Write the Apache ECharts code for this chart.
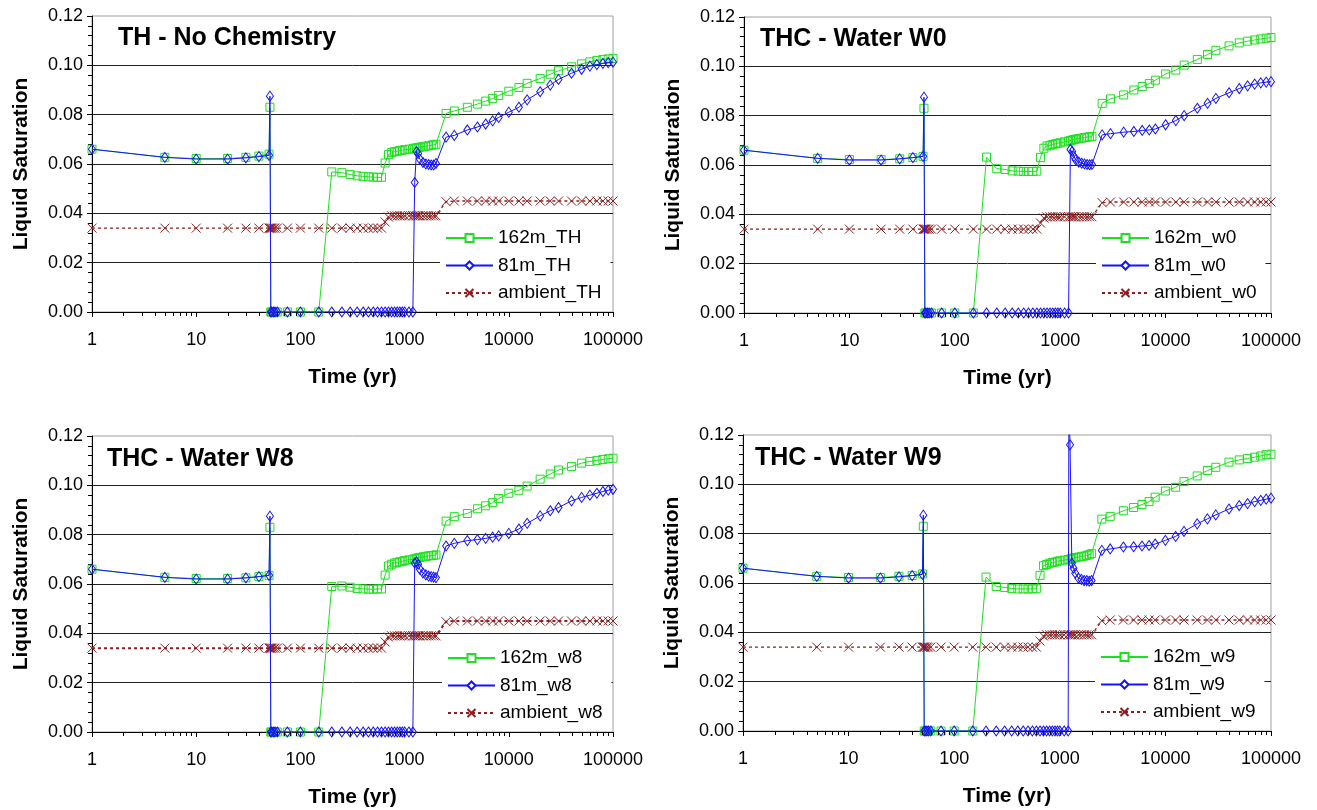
<!DOCTYPE html>
<html><head><meta charset="utf-8">
<script src="https://cdn.jsdelivr.net/npm/echarts@6/dist/echarts.min.js"></script>
<style>html,body{margin:0;padding:0;background:#fff}#c{width:1317px;height:810px}</style>
</head><body><div id="c"></div>
<script>
// ---------------- DATA ----------------
const times = [1,5,10,20,30,40,50,51,52,53,55,57,60,75,100,150,
  200,250,300,350,400,450,500,550,600,
  650,700,750,800,850,900,950,1000,1100,1200,1250,1300,1350,1400,1500,1600,1700,1800,1900,2000,
  2500,3000,4000,5000,6000,7000,8000,10000,12500,15000,20000,25000,30000,40000,50000,60000,70000,80000,90000,100000];

const timesW9Blue = [1,5,10,20,30,40,50,51,52,53,55,57,60,75,100,150,
  200,250,300,350,400,450,500,550,600,
  650,700,750,800,850,900,950,1000,1100,1200,1220,1250,1300,1350,1400,1500,1600,1700,1800,1900,2000,
  2500,3000,4000,5000,6000,7000,8000,10000,12500,15000,20000,25000,30000,40000,50000,60000,70000,80000,90000,100000];

const green162TH = [0.066,0.0627,0.0622,0.0622,0.0627,0.0632,0.064,0.083,0,0,0,0,0,0,0,0,
  0.0568,0.0565,0.0557,0.0552,0.055,0.0548,0.0547,0.0546,0.0546,
  0.0604,0.0638,0.0646,0.065,0.0652,0.0654,0.0656,0.0658,0.066,0.0662,0.0664,0.0665,0.0666,0.0668,0.067,0.0672,0.0674,0.0676,0.0678,0.068,
  0.0805,0.0815,0.083,0.0843,0.0855,0.0866,0.0878,0.0895,0.091,0.0927,0.0947,0.0964,0.0978,0.0994,0.1006,0.1014,0.102,0.1024,0.1026,0.1028];
const blue81TH = [0.066,0.0627,0.062,0.062,0.0625,0.063,0.0635,0.0875,0,0,0,0,0,0,0,0,
  0,0,0,0,0,0,0,0,0,
  0,0,0,0,0,0,0,0,0,0,0.0525,0.065,0.0643,0.062,0.0606,0.06,0.0598,0.0596,0.0596,0.0602,
  0.0709,0.0716,0.0738,0.075,0.0762,0.0775,0.0789,0.081,0.083,0.086,0.0893,0.092,0.0943,0.0968,0.0984,0.0997,0.1003,0.1008,0.1011,0.1013];
const ambientTH = [0.034,0.034,0.034,0.034,0.034,0.034,0.034,0.034,0.034,0.034,0.034,0.034,0.034,0.034,0.034,0.034,
  0.034,0.034,0.034,0.034,0.034,0.034,0.034,0.034,0.034,
  0.0365,0.0385,0.039,0.039,0.039,0.039,0.039,0.039,0.039,0.039,0.039,0.039,0.039,0.039,0.039,0.039,0.039,0.039,0.039,0.039,
  0.0447,0.045,0.045,0.045,0.045,0.045,0.045,0.045,0.045,0.045,0.045,0.045,0.045,0.045,0.045,0.045,0.045,0.045,0.045,0.045];

const green162W0 = [0.066,0.0627,0.0622,0.0622,0.0625,0.063,0.0635,0.083,0,0,0,0,0,0,0,0,
  0.0632,0.0585,0.0582,0.0576,0.0575,0.0574,0.0574,0.0574,0.0575,
  0.063,0.0668,0.0677,0.068,0.0683,0.0686,0.0688,0.069,0.0694,0.0697,0.0699,0.0701,0.0703,0.0705,0.0707,0.0709,0.0711,0.0713,0.0714,0.0716,
  0.085,0.0868,0.0884,0.0904,0.0918,0.093,0.0944,0.0969,0.0985,0.1005,0.1028,0.1048,0.1065,0.1083,0.1095,0.1102,0.1107,0.1111,0.1114,0.1117];
const blue81W0 = [0.066,0.0627,0.062,0.062,0.0625,0.063,0.0635,0.0875,0,0,0,0,0,0,0,0,
  0,0,0,0,0,0,0,0,0,
  0,0,0,0,0,0,0,0,0,0,0.0663,0.0655,0.0635,0.0622,0.0612,0.0607,0.0604,0.0602,0.0601,0.0602,
  0.0722,0.0727,0.0733,0.0736,0.074,0.0742,0.0746,0.0763,0.078,0.08,0.083,0.085,0.087,0.0893,0.091,0.0921,0.0928,0.0933,0.0936,0.0938];
const ambientW0 = [0.034,0.034,0.034,0.034,0.034,0.034,0.034,0.034,0.034,0.034,0.034,0.034,0.034,0.034,0.034,0.034,
  0.034,0.034,0.034,0.034,0.034,0.034,0.034,0.034,0.034,
  0.0365,0.0385,0.039,0.039,0.039,0.039,0.039,0.039,0.039,0.039,0.039,0.039,0.039,0.039,0.039,0.039,0.039,0.039,0.039,0.039,
  0.0447,0.045,0.045,0.045,0.045,0.045,0.045,0.045,0.045,0.045,0.045,0.045,0.045,0.045,0.045,0.045,0.045,0.045,0.045,0.045];

const green162W8 = [0.066,0.0627,0.0622,0.0622,0.0625,0.063,0.0635,0.083,0,0,0,0,0,0,0,0,
  0.059,0.0592,0.0587,0.0582,0.058,0.0579,0.0579,0.058,0.058,
  0.0636,0.0673,0.068,0.0685,0.0688,0.069,0.0692,0.0695,0.0698,0.07,0.0702,0.0704,0.0706,0.0708,0.071,0.0712,0.0714,0.0715,0.0716,0.0718,
  0.0855,0.0873,0.0886,0.0905,0.0917,0.093,0.0947,0.0968,0.098,0.0997,0.1025,0.1046,0.1062,0.1076,0.109,0.1097,0.1101,0.1105,0.1108,0.111];
const blue81W8 = [0.066,0.0627,0.062,0.062,0.0625,0.063,0.0635,0.0875,0,0,0,0,0,0,0,0,
  0,0,0,0,0,0,0,0,0,
  0,0,0,0,0,0,0,0,0,0,0.0685,0.069,0.068,0.066,0.0645,0.0637,0.0632,0.063,0.0628,0.0626,
  0.0754,0.0765,0.0776,0.078,0.0785,0.079,0.0795,0.0805,0.0823,0.0846,0.0876,0.0897,0.091,0.0937,0.0951,0.096,0.0968,0.0975,0.098,0.0984];
const ambientW8 = [0.034,0.034,0.034,0.034,0.034,0.034,0.034,0.034,0.034,0.034,0.034,0.034,0.034,0.034,0.034,0.034,
  0.034,0.034,0.034,0.034,0.034,0.034,0.034,0.034,0.034,
  0.0365,0.0385,0.039,0.039,0.039,0.039,0.039,0.039,0.039,0.039,0.039,0.039,0.039,0.039,0.039,0.039,0.039,0.039,0.039,0.039,
  0.0447,0.045,0.045,0.045,0.045,0.045,0.045,0.045,0.045,0.045,0.045,0.045,0.045,0.045,0.045,0.045,0.045,0.045,0.045,0.045];

const green162W9 = [0.066,0.0627,0.0622,0.0622,0.0627,0.063,0.0637,0.083,0,0,0,0,0,0,0,0,
  0.0624,0.0586,0.0582,0.0578,0.0576,0.0576,0.0576,0.0576,0.0577,
  0.0631,0.067,0.0675,0.068,0.0683,0.0685,0.0688,0.069,0.0693,0.0695,0.0697,0.0699,0.0701,0.0703,0.0705,0.0707,0.0709,0.0712,0.0715,0.0719,
  0.0859,0.087,0.0893,0.0906,0.0918,0.093,0.0948,0.0973,0.0988,0.1011,0.1034,0.1056,0.1069,0.109,0.1099,0.1105,0.111,0.1115,0.112,0.1122];
const blue81W9 = [0.066,0.0627,0.062,0.062,0.0625,0.063,0.0635,0.0875,0,0,0,0,0,0,0,0,
  0,0,0,0,0,0,0,0,0,
  0,0,0,0,0,0,0,0,0,0,0.135,0.116,0.068,0.066,0.064,0.062,0.0615,0.061,0.061,0.0607,0.061,
  0.0732,0.0738,0.0746,0.0747,0.075,0.0752,0.0758,0.0773,0.0789,0.0809,0.084,0.086,0.0876,0.09,0.0914,0.0922,0.093,0.0935,0.094,0.0944];
const ambientW9 = [0.034,0.034,0.034,0.034,0.034,0.034,0.034,0.034,0.034,0.034,0.034,0.034,0.034,0.034,0.034,0.034,
  0.034,0.034,0.034,0.034,0.034,0.034,0.034,0.034,0.034,
  0.0365,0.0385,0.039,0.039,0.039,0.039,0.039,0.039,0.039,0.039,0.039,0.039,0.039,0.039,0.039,0.039,0.039,0.039,0.039,0.039,
  0.0447,0.045,0.045,0.045,0.045,0.045,0.045,0.045,0.045,0.045,0.045,0.045,0.045,0.045,0.045,0.045,0.045,0.045,0.045,0.045];

const panelTitles = ['TH - No Chemistry','THC - Water W0','THC - Water W8','THC - Water W9'];
const seriesSuffix = ['TH','w0','w8','w9'];
const xMinorTicks = [2,3,4,5,6,7,8,9,20,30,40,50,60,70,80,90,200,300,400,500,600,700,800,900,
  2000,3000,4000,5000,6000,7000,8000,9000,20000,30000,40000,50000,60000,70000,80000,90000];
const xRange = [1, 100000];
const yRange = [0, 0.12];
const yStep = 0.02;
const xAxisTitle = 'Time (yr)';
const yAxisTitle = 'Liquid Saturation';

const panelData = [
  {green: green162TH, blue: blue81TH, blueT: times, amb: ambientTH},
  {green: green162W0, blue: blue81W0, blueT: times, amb: ambientW0},
  {green: green162W8, blue: blue81W8, blueT: times, amb: ambientW8},
  {green: green162W9, blue: blue81W9, blueT: timesW9Blue, amb: ambientW9}
];

// ---------------- LAYOUT / STYLE ----------------
const layout = [
  {grid:{left:92, top:16, width:521, height:296}, title:{left:118, top:26}, legend:{left:440, top:222}},
  {grid:{left:744, top:17, width:527, height:296}, title:{left:760, top:27}, legend:{left:1096, top:222}},
  {grid:{left:92, top:436, width:521, height:296}, title:{left:107, top:447}, legend:{left:442, top:642}},
  {grid:{left:743, top:435, width:528, height:296}, title:{left:755, top:446}, legend:{left:1095, top:641}}
];
const FONT = '"Liberation Sans", Arial, sans-serif';
const GREEN = '#1ee01e', BLUE = '#1414ff', RED = '#8f1f1f';
const X_SYMBOL = 'path://M0,0L10,10M10,0L0,10';

const zip = (t, v) => v.map((y, i) => [t[i], y]);

const option = {
  animation: false,
  backgroundColor: '#fff',
  textStyle: {fontFamily: FONT, color: '#000'},
  title: [], grid: [], xAxis: [], yAxis: [], legend: [], series: []
};

layout.forEach((L, i) => {
  const suf = seriesSuffix[i];
  const d = panelData[i];
  option.title.push({text: panelTitles[i], left: L.title.left, top: L.title.top, padding: 0,
    textStyle: {fontFamily: FONT, fontSize: 25, fontWeight: 'bold', color: '#000'}});
  option.grid.push(Object.assign({show: true, borderColor: '#a0a0a0', borderWidth: 1, backgroundColor: 'transparent', containLabel: false}, L.grid));
  option.xAxis.push({
    type: 'log', logBase: 10, gridIndex: i, min: xRange[0], max: xRange[1],
    axisLine: {show: true, onZero: false, lineStyle: {color: '#000', width: 1}},
    axisTick: {show: true, length: 5, lineStyle: {color: '#000'}},
    axisLabel: {fontFamily: FONT, fontSize: 18, color: '#000', margin: 19, formatter: v => String(Math.round(v))},
    splitLine: {show: false},
    name: xAxisTitle, nameLocation: 'middle', nameGap: 55,
    nameTextStyle: {fontFamily: FONT, fontSize: 21, fontWeight: 'bold', color: '#000'}
  });
  option.yAxis.push({
    type: 'value', gridIndex: i, min: yRange[0], max: yRange[1], interval: yStep,
    axisLine: {show: true, lineStyle: {color: '#000', width: 1}},
    axisTick: {show: true, length: 5, lineStyle: {color: '#000'}},
    minorTick: {show: true, splitNumber: 5, length: 4, lineStyle: {color: '#000'}},
    axisLabel: {fontFamily: FONT, fontSize: 18, color: '#000', margin: 9, formatter: v => v.toFixed(2)},
    splitLine: {show: true, showMaxLine: false, lineStyle: {color: '#222', width: 1}},
    name: yAxisTitle, nameLocation: 'middle', nameGap: 60,
    nameTextStyle: {fontFamily: FONT, fontSize: 21, fontWeight: 'bold', color: '#000'}
  });
  option.legend.push({
    data: ['162m_' + suf, '81m_' + suf, 'ambient_' + suf],
    orient: 'vertical', left: L.legend.left, top: L.legend.top,
    backgroundColor: '#fff', padding: [6, 9, 6, 5],
    itemWidth: 47, itemHeight: 10, itemGap: 7.5, selectedMode: false,
    itemStyle: {color: '#fff'},
    textStyle: {fontFamily: FONT, fontSize: 19, lineHeight: 20, color: '#000'}
  });
  option.series.push({
    type: 'line', name: '162m_' + suf, xAxisIndex: i, yAxisIndex: i,
    data: zip(times, d.green), symbol: 'rect', symbolSize: 8,
    lineStyle: {color: GREEN, width: 1},
    itemStyle: {color: 'rgba(255,255,255,0)', borderColor: GREEN, borderWidth: 1},
    emphasis: {disabled: true}, z: 2
  });
  option.series.push({
    type: 'line', name: '81m_' + suf, xAxisIndex: i, yAxisIndex: i,
    data: zip(d.blueT, d.blue), symbol: 'diamond', symbolSize: [7, 10],
    lineStyle: {color: BLUE, width: 1},
    itemStyle: {color: 'rgba(255,255,255,0)', borderColor: BLUE, borderWidth: 1},
    emphasis: {disabled: true}, z: 3
  });
  option.series.push({
    type: 'line', name: 'ambient_' + suf, xAxisIndex: i, yAxisIndex: i,
    data: zip(times, d.amb), symbol: X_SYMBOL, symbolSize: 9,
    lineStyle: {color: RED, width: i === 2 ? 2 : 1.3, type: [3, 3]},
    itemStyle: {color: 'rgba(255,255,255,0)', borderColor: RED, borderWidth: 1},
    emphasis: {disabled: true}, z: 2
  });
  option.series.push({
    type: 'custom', xAxisIndex: i, yAxisIndex: i, silent: true, z: 4,
    data: xMinorTicks.map(t => [t, yRange[0]]),
    renderItem: (params, api) => {
      const p = api.coord([api.value(0), api.value(1)]);
      const x = Math.round(p[0]) + 0.5;
      return {type: 'line', shape: {x1: x, y1: p[1], x2: x, y2: p[1] + 4},
        style: {stroke: '#000', lineWidth: 1}};
    }
  });
});

const chart = echarts.init(document.getElementById('c'), null, {renderer: 'canvas'});
chart.setOption(option);
</script>
</body></html>
